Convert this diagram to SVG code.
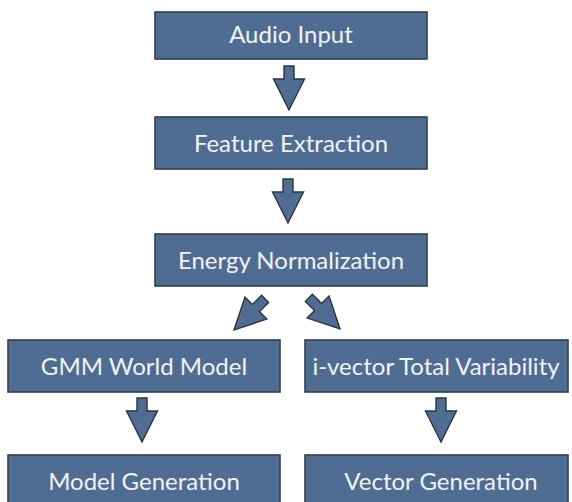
<svg xmlns="http://www.w3.org/2000/svg" width="572" height="502" viewBox="0 0 572 502">
<style>
.box{fill:#4f6d93;stroke:#343f4c;stroke-width:1.6}
.lbl{font-family:Lato,"Open Sans",sans-serif;font-size:24px;fill:#f1f3f5;text-anchor:middle}
.arr{fill:#4f6d93;stroke:#2c3440;stroke-width:1.4;stroke-linejoin:miter}
</style>
<defs>
<path id="arrow" d="M-5,-44 L5,-44 L5,-31 L15.5,-31 L0,0 L-15.5,-31 L-5,-31 Z"/>
</defs>
<rect width="572" height="502" fill="#ffffff"/>
<g id="connectors">
<use href="#arrow" class="arr" transform="translate(289,110)"/>
<use href="#arrow" class="arr" transform="translate(288,223)"/>
<use href="#arrow" class="arr" transform="translate(234,330) rotate(45)"/>
<use href="#arrow" class="arr" transform="translate(340,329) rotate(-45)"/>
<use href="#arrow" class="arr" transform="translate(142,442)"/>
<use href="#arrow" class="arr" transform="translate(441,442)"/>
</g>
<g id="audio-input">
<rect class="box" x="155" y="12" width="272" height="47"/>
<text class="lbl" x="291" y="43">Audio Input</text>
</g>
<g id="feature-extraction">
<rect class="box" x="155" y="117" width="272" height="52"/>
<text class="lbl" x="291" y="152">Feature Extraction</text>
</g>
<g id="energy-normalization">
<rect class="box" x="155" y="234" width="272" height="52"/>
<text class="lbl" x="291" y="269">Energy Normalization</text>
</g>
<g id="gmm-world-model">
<rect class="box" x="8" y="340" width="272" height="52"/>
<text class="lbl" x="144" y="375">GMM World Model</text>
</g>
<g id="ivector-total-variability">
<rect class="box" x="305" y="340" width="263" height="52"/>
<text class="lbl" x="436" y="375">i-vector Total Variability</text>
</g>
<g id="model-generation">
<rect class="box" x="8" y="455" width="272" height="60"/>
<text class="lbl" x="144" y="490">Model Generation</text>
</g>
<g id="vector-generation">
<rect class="box" x="305" y="455" width="263" height="60"/>
<text class="lbl" x="441" y="490">Vector Generation</text>
</g>
</svg>
